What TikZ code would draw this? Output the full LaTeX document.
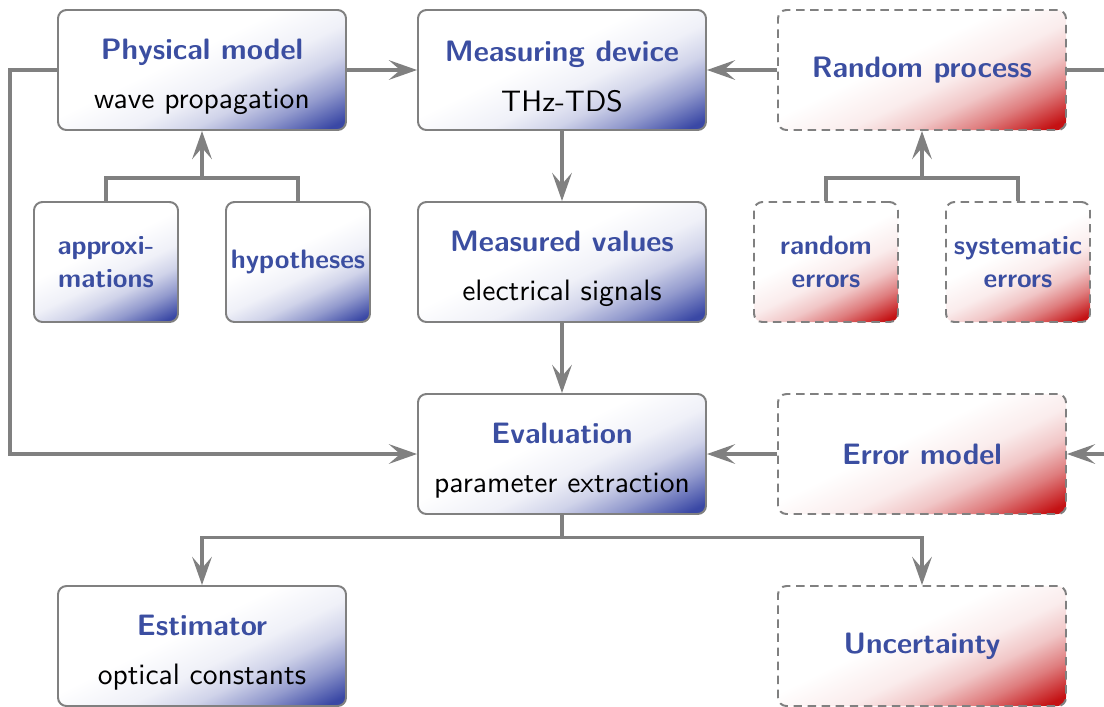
\documentclass[tikz,border=0pt]{standalone}
\usepackage{tikz}
\usetikzlibrary{arrows.meta}
\renewcommand{\familydefault}{\sfdefault}
\definecolor{tblue}{RGB}{59,78,161}
\definecolor{sblue}{RGB}{58,72,165}
\definecolor{sred}{RGB}{196,18,20}
\definecolor{lgray}{RGB}{128,128,128}
\pgfdeclareverticalshading{blueshade}{100bp}{color(0bp)=(sblue); color(19bp)=(sblue); color(28bp)=(sblue!55!white); color(36bp)=(sblue!24!white); color(44bp)=(sblue!8!white); color(56bp)=(white); color(100bp)=(white)}
\pgfdeclareverticalshading{redshade}{100bp}{color(0bp)=(sred); color(19bp)=(sred); color(28bp)=(sred!55!white); color(36bp)=(sred!24!white); color(44bp)=(sred!8!white); color(56bp)=(white); color(100bp)=(white)}

\begin{document}
\begin{tikzpicture}[every node/.style={font=\sffamily\fontsize{10.5}{12.6}\selectfont, align=center},
  bigbox/.style={draw=lgray, line width=0.7pt, rounded corners=3pt, minimum width=3.6cm, minimum height=1.5cm, shading=blueshade, shading angle=26},
  smallbox/.style={bigbox, minimum width=1.8cm, inner xsep=1pt, text=tblue, font=\sffamily\fontsize{9.5}{11.5}\selectfont\bfseries},
  redbox/.style={bigbox, dash pattern=on 3pt off 2pt, shading=redshade, shading angle=26, text=tblue, font=\sffamily\fontsize{10.5}{12.6}\selectfont\bfseries},
  redsmall/.style={redbox, minimum width=1.8cm, inner xsep=1pt, font=\sffamily\fontsize{9.5}{11.5}\selectfont\bfseries},
  conn/.style={draw=lgray, line width=1.1pt},
  connarrow/.style={conn, -{Stealth[length=10pt, width=7pt, inset=4pt]}}]
\useasboundingbox (-2.525,0.875) rectangle (11.275,-7.95);
\clip (-2.525,0.875) rectangle (11.275,-7.95);

% Model side
\node[bigbox] (pm) at (0,0) {\rule{0pt}{12pt}\textcolor{tblue}{\textbf{Physical model}}\\[5pt] wave propagation};
\node[smallbox] (apx) at (-1.2,-2.4) {approxi-\\mations};
\node[smallbox] (hyp) at (1.2,-2.4) {hypotheses};

% Measurement chain
\node[bigbox] (md) at (4.5,0) {\rule{0pt}{12pt}\textcolor{tblue}{\textbf{Measuring device}}\\[5pt] THz-TDS};
\node[bigbox] (mv) at (4.5,-2.4) {\rule{0pt}{12pt}\textcolor{tblue}{\textbf{Measured values}}\\[5pt] electrical signals};
\node[bigbox] (ev) at (4.5,-4.8) {\rule{0pt}{12pt}\textcolor{tblue}{\textbf{Evaluation}}\\[5pt] parameter extraction};
\node[bigbox] (est) at (0,-7.2) {\rule{0pt}{12pt}\textcolor{tblue}{\textbf{Estimator}}\\[5pt] optical constants};

% Error side
\node[redbox] (rp) at (9,0) {Random process};
\node[redsmall] (re) at (7.8,-2.4) {random\\errors};
\node[redsmall] (se) at (10.2,-2.4) {systematic\\errors};
\node[redbox] (em) at (9,-4.8) {Error model};
\node[redbox] (unc) at (9,-7.2) {Uncertainty};

% Junctions
\coordinate (pmjoin) at (0,-1.35);
\coordinate (rpjoin) at (9,-1.35);
\coordinate (evjoin) at (4.5,-5.84);
\coordinate (pmleft) at (-2.4,0);
\coordinate (rpright) at (11.4,0);

% Arrows
\draw[connarrow] (pm) -- (md);
\draw[connarrow] (rp) -- (md);
\draw[connarrow] (md) -- (mv);
\draw[connarrow] (mv) -- (ev);
\draw[connarrow] (em) -- (ev);
\draw[conn] (apx.north) |- (pmjoin) -| (hyp.north);
\draw[connarrow] (pmjoin) -- (pm.south);
\draw[conn] (re.north) |- (rpjoin) -| (se.north);
\draw[connarrow] (rpjoin) -- (rp.south);
\draw[connarrow] (pm.west) -- (pmleft) |- (ev.west);
\draw[connarrow] (rp.east) -- (rpright) |- (em.east);
\draw[conn] (ev.south) -- (evjoin);
\draw[connarrow] (evjoin) -| (est.north);
\draw[connarrow] (evjoin) -| (unc.north);
\end{tikzpicture}
\end{document}
